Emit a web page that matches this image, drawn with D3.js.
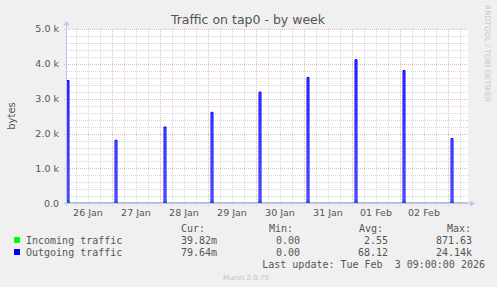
<!DOCTYPE html>
<html>
<head>
<meta charset="utf-8">
<script src="https://cdn.jsdelivr.net/npm/d3@7"></script>
<style>
  html, body { margin: 0; padding: 0; background: #f0f0f0; }
  svg { display: block; }
</style>
</head>
<body>
<div id="chart"></div>
<script>
// Munin "Traffic on tap0 - by week" redrawn with D3.

// Spike start times (UTC) and 30-min average values, bytes/s
const spikeTimes = [
  "2026-01-26T01:30", "2026-01-27T01:30", "2026-01-28T02:00",
  "2026-01-29T01:30", "2026-01-30T01:30", "2026-01-31T01:30",
  "2026-02-01T01:30", "2026-02-02T01:30", "2026-02-03T01:30"
];
const outgoing = [3520, 1810, 2190, 2610, 3190, 3610, 4120, 3810, 1860];
const incoming = [70, 45, 50, 55, 55, 55, 60, 55, 45];

const yTicks = [0, 1000, 2000, 3000, 4000, 5000];
const yTickLabels = ["0.0", "1.0 k", "2.0 k", "3.0 k", "4.0 k", "5.0 k"];

const legendRows = [
  { name: "Incoming traffic", color: "#00ff00", cur: "39.82m", min: "0.00", avg: "2.55", max: "871.63" },
  { name: "Outgoing traffic", color: "#0000ff", cur: "79.64m", min: "0.00", avg: "68.12", max: "24.14k" }
];

const W = 497, H = 287;
const plot = { left: 67, right: 468, top: 29, bottom: 203.3 };
const parse = d3.utcParse("%Y-%m-%dT%H:%M");
const tStart = parse("2026-01-26T01:30");
const tEnd = parse("2026-02-03T10:00");
const spikeLen = 60 * 60 * 1000; // 1 h of high samples

const x = d3.scaleUtc().domain([tStart, tEnd]).range([plot.left, plot.right]);
const y = d3.scaleLinear().domain([0, 5000]).range([plot.bottom, plot.top]);

const svg = d3.select("#chart").append("svg")
  .attr("width", W).attr("height", H)
  .attr("viewBox", `0 0 ${W} ${H}`);

svg.append("rect").attr("width", W).attr("height", H).attr("fill", "#f0f0f0");
svg.append("rect")
  .attr("x", plot.left).attr("y", plot.top)
  .attr("width", plot.right - plot.left).attr("height", plot.bottom - plot.top)
  .attr("fill", "#ffffff");

// grid
const minorY = d3.range(0, 5001, 200).filter((v) => v % 1000 !== 0);
svg.append("g").selectAll("line").data(minorY).join("line")
  .attr("x1", plot.left).attr("x2", plot.right)
  .attr("y1", (d) => Math.round(y(d)) + 0.5).attr("y2", (d) => Math.round(y(d)) + 0.5)
  .attr("stroke", "#d8d8d8").attr("stroke-dasharray", "1,1");

const sixHours = d3.utcHour.every(6).range(tStart, tEnd).filter((d) => d.getUTCHours() !== 0);
svg.append("g").selectAll("line").data(sixHours).join("line")
  .attr("x1", (d) => Math.round(x(d)) + 0.5).attr("x2", (d) => Math.round(x(d)) + 0.5)
  .attr("y1", plot.top).attr("y2", plot.bottom)
  .attr("stroke", "#d8d8d8").attr("stroke-dasharray", "1,1");

const days = d3.utcDay.range(tStart, tEnd);
svg.append("g").selectAll("line").data(days).join("line")
  .attr("x1", (d) => Math.round(x(d)) + 0.5).attr("x2", (d) => Math.round(x(d)) + 0.5)
  .attr("y1", plot.top).attr("y2", plot.bottom + 3)
  .attr("stroke", "#eeb4b4").attr("stroke-dasharray", "1,1");

svg.append("g").selectAll("line").data(yTicks.filter((d) => d > 0)).join("line")
  .attr("x1", plot.left - 3).attr("x2", plot.right)
  .attr("y1", (d) => Math.round(y(d)) + 0.5).attr("y2", (d) => Math.round(y(d)) + 0.5)
  .attr("stroke", "#eeb4b4").attr("stroke-dasharray", "1,1");

// series
function seriesPoints(values) {
  const pts = [[tStart, 0]];
  spikeTimes.forEach((s, i) => {
    const t0 = parse(s);
    const t1 = new Date(+t0 + spikeLen);
    pts.push([t0, 0], [t0, values[i]], [t1, values[i]], [t1, 0]);
  });
  pts.push([tEnd, 0]);
  return pts;
}

const defs = svg.append("defs");
const grad = defs.append("linearGradient").attr("id", "fillOut")
  .attr("gradientUnits", "userSpaceOnUse")
  .attr("x1", 0).attr("x2", 0).attr("y1", plot.top).attr("y2", plot.bottom);
grad.append("stop").attr("offset", "0").attr("stop-color", "#3030ff");
grad.append("stop").attr("offset", "1").attr("stop-color", "#9898ff");

const area = d3.area().x((d) => x(d[0])).y0(y(0)).y1((d) => y(d[1]));
const line = d3.line().x((d) => x(d[0])).y((d) => y(d[1]));

const outPts = seriesPoints(outgoing);
const inPts = seriesPoints(incoming);

svg.append("path").attr("d", area(outPts)).attr("fill", "url(#fillOut)");
svg.append("path").attr("d", line(inPts))
  .attr("fill", "none").attr("stroke", "#00cc00").attr("stroke-width", 1);
svg.append("path").attr("d", line(outPts))
  .attr("fill", "none").attr("stroke", "#0000ff").attr("stroke-width", 1);

// axes (rrdtool style with arrows)
const axisColor = "#c4c4f4";
svg.append("line")
  .attr("x1", plot.left - 0.5).attr("x2", plot.left - 0.5)
  .attr("y1", plot.bottom + 2).attr("y2", 24)
  .attr("stroke", axisColor);
svg.append("path")
  .attr("d", `M${plot.left - 3.5},25.5 L${plot.left - 0.5},21 L${plot.left + 2.5},25.5 Z`)
  .attr("fill", axisColor);
svg.append("line")
  .attr("x1", plot.left - 3).attr("x2", plot.right + 3)
  .attr("y1", Math.round(plot.bottom) + 0.5).attr("y2", Math.round(plot.bottom) + 0.5)
  .attr("stroke", axisColor);
svg.append("path")
  .attr("d", `M${plot.right + 2},${Math.round(plot.bottom) - 2.5} L${plot.right + 7},${Math.round(plot.bottom) + 0.5} L${plot.right + 2},${Math.round(plot.bottom) + 3.5} Z`)
  .attr("fill", axisColor);

// y tick labels
svg.append("g").selectAll("text").data(yTicks).join("text")
  .attr("x", 59).attr("y", (d) => y(d))
  .attr("dy", "0.35em")
  .attr("text-anchor", "end")
  .attr("font-family", "DejaVu Sans, sans-serif")
  .attr("font-size", 9.5).attr("fill", "#555")
  .text((d, i) => yTickLabels[i]);

// x labels at noon
const fmt = d3.utcFormat("%d %b");
const noons = days.map((d) => d3.utcHour.offset(d, 12))
  .concat([d3.utcHour.offset(d3.utcDay.floor(tStart), 12)])
  .filter((d) => d >= tStart && d <= tEnd)
  .sort((a, b) => a - b);
svg.append("g").selectAll("text").data(noons).join("text")
  .attr("x", (d) => x(d)).attr("y", 216)
  .attr("text-anchor", "middle")
  .attr("font-family", "DejaVu Sans, sans-serif")
  .attr("font-size", 9.5).attr("fill", "#555")
  .text(fmt);

// title and labels
svg.append("text")
  .attr("x", 248).attr("y", 23.5).attr("text-anchor", "middle")
  .attr("font-family", "DejaVu Sans, sans-serif")
  .attr("font-size", 12.5).attr("fill", "#555")
  .text("Traffic on tap0 - by week");

svg.append("text")
  .attr("transform", "translate(15,116) rotate(-90)")
  .attr("text-anchor", "middle")
  .attr("font-family", "DejaVu Sans, sans-serif")
  .attr("font-size", 10).attr("fill", "#555")
  .text("bytes");

svg.append("text")
  .attr("transform", "translate(485,5) rotate(90)")
  .attr("font-family", "DejaVu Sans, sans-serif")
  .attr("font-size", 7.5).attr("fill", "#c8c8c8")
  .attr("textLength", 97).attr("lengthAdjust", "spacingAndGlyphs")
  .text("RRDTOOL / TOBI OETIKER");

// legend
const mono = "DejaVu Sans Mono, monospace";
const legend = svg.append("g")
  .attr("font-family", mono).attr("font-size", 10).attr("fill", "#555");

const cols = [
  { key: "cur", head: "Cur:", headX: 181, end: 217 },
  { key: "min", head: "Min:", headX: 269, end: 300 },
  { key: "avg", head: "Avg:", headX: 359, end: 388 },
  { key: "max", head: "Max:", headX: 447, end: 472 }
];
legend.selectAll("text.head").data(cols).join("text")
  .attr("class", "head")
  .attr("x", (d) => d.headX).attr("y", 231.5)
  .text((d) => d.head);

legendRows.forEach((r, i) => {
  const yy = 243.5 + i * 12;
  legend.append("rect")
    .attr("x", 14).attr("y", yy - 6.5).attr("width", 6).attr("height", 6)
    .attr("fill", r.color);
  legend.append("text").attr("x", 26).attr("y", yy).text(r.name);
  cols.forEach((c) => {
    legend.append("text")
      .attr("x", c.end).attr("y", yy).attr("text-anchor", "end")
      .text(r[c.key]);
  });
});

legend.append("text")
  .attr("x", 485).attr("y", 267.5).attr("text-anchor", "end")
  .attr("xml:space", "preserve")
  .style("white-space", "pre")
  .text("Last update: Tue Feb  3 09:00:00 2026");

svg.append("text")
  .attr("x", 246).attr("y", 280).attr("text-anchor", "middle")
  .attr("font-family", "DejaVu Sans, sans-serif")
  .attr("font-size", 7).attr("fill", "#c0c0c0")
  .text("Munin 2.0.75");
</script>
</body>
</html>
